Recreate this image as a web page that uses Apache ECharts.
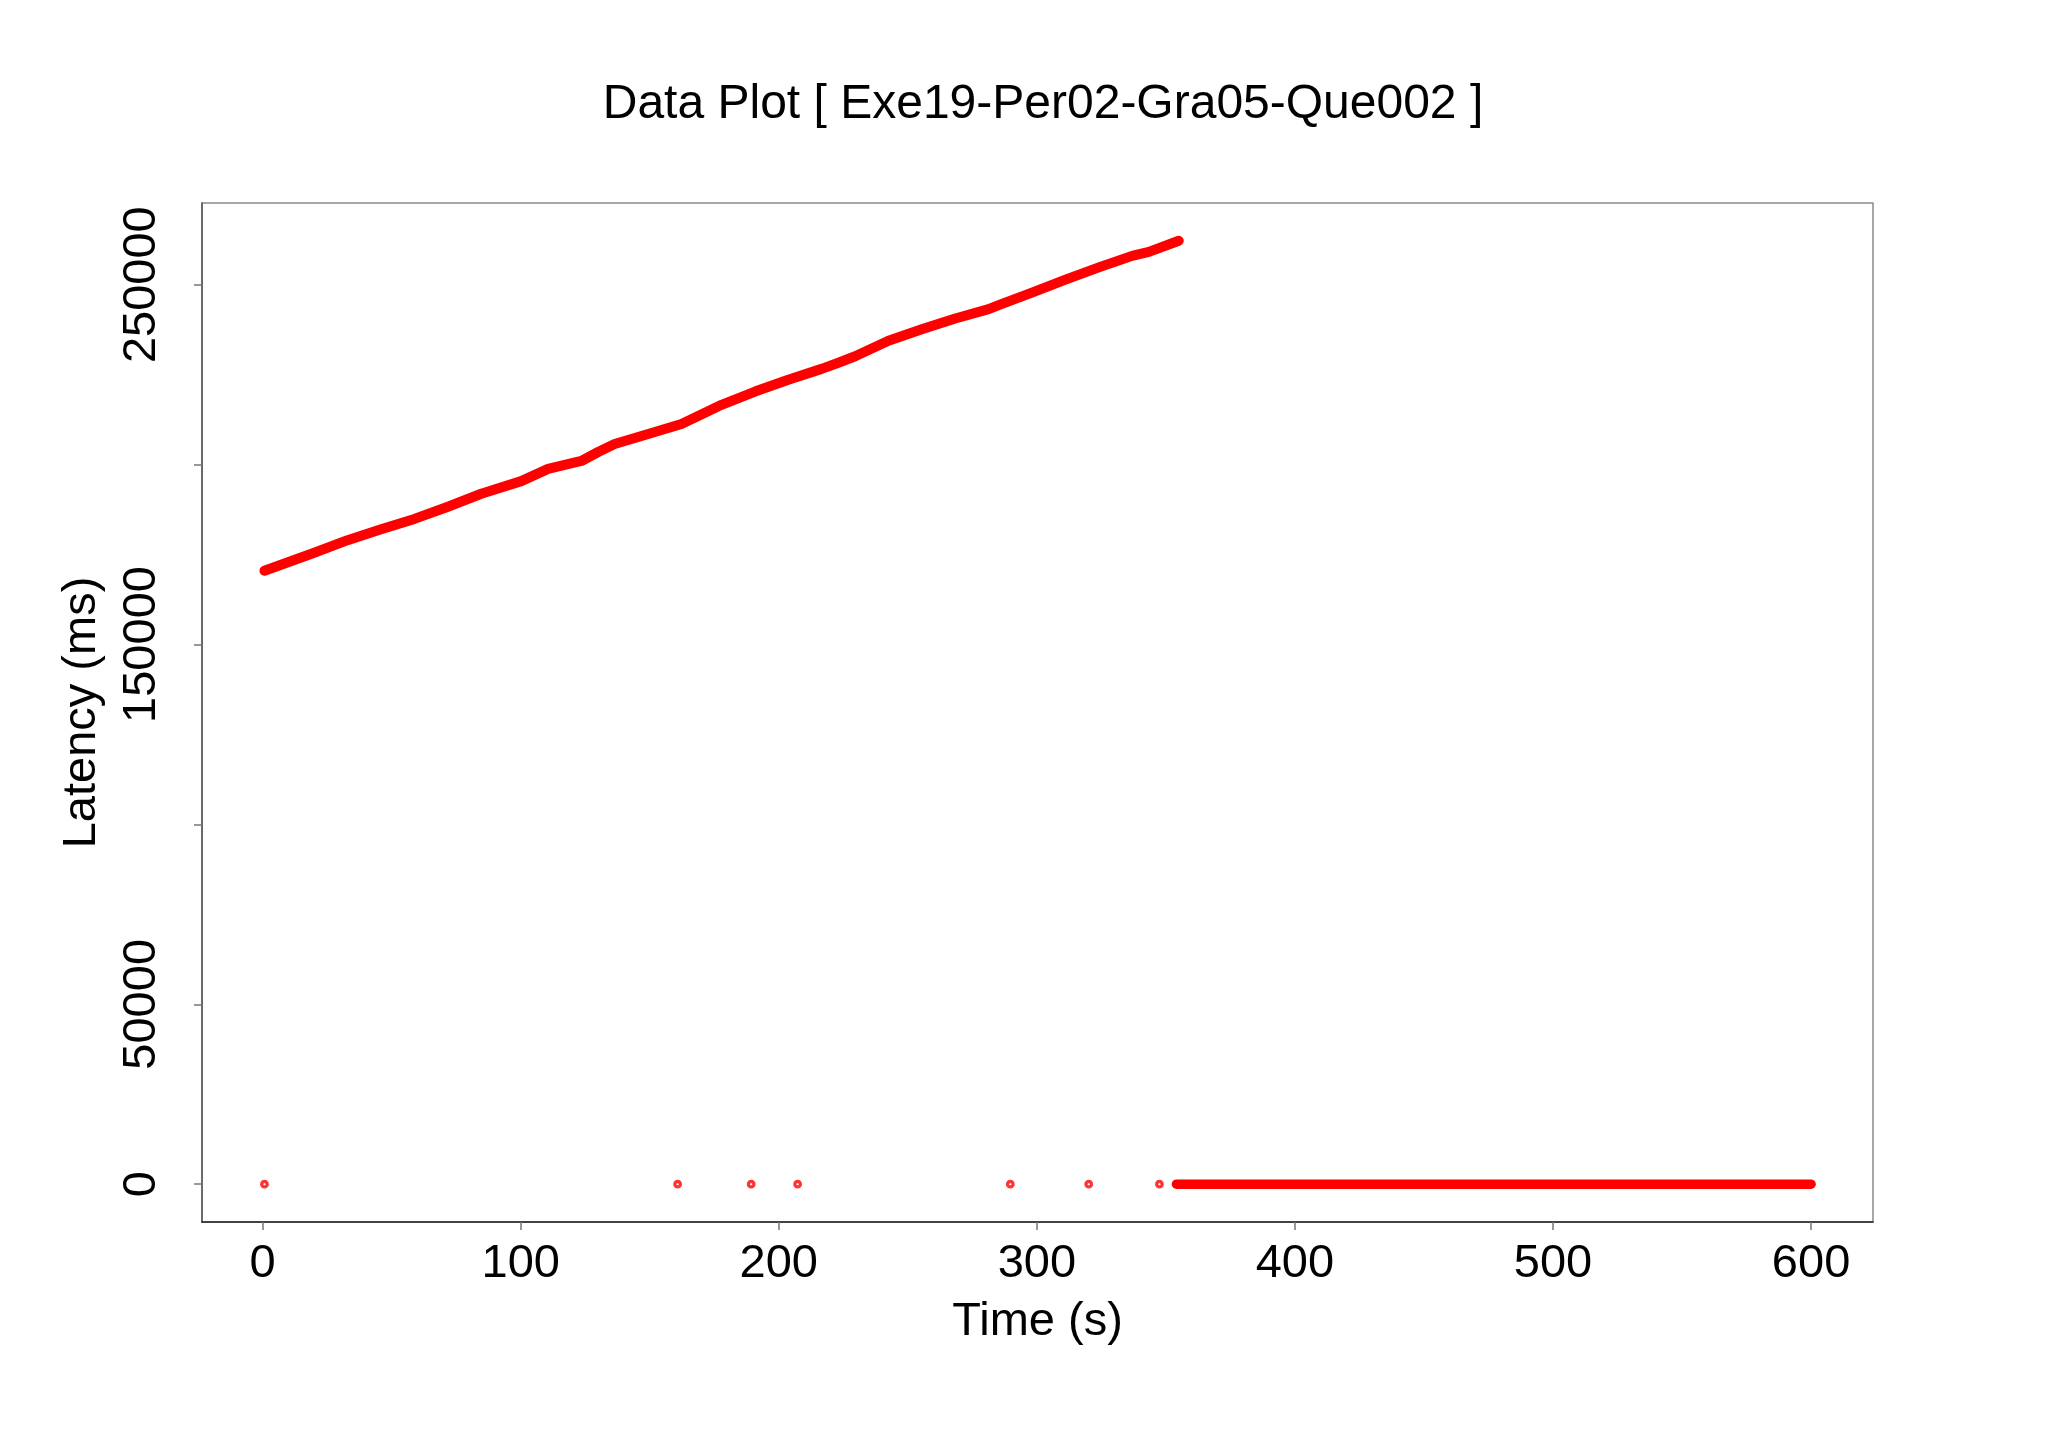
<!DOCTYPE html>
<html>
<head>
<meta charset="utf-8">
<script src="https://cdn.jsdelivr.net/npm/echarts@6/dist/echarts.min.js"></script>
<style>
html,body{margin:0;padding:0;background:#fff;}
#chart{width:2048px;height:1440px;}
</style>
</head>
<body>
<div id="chart"></div>
<script>
// Upper (growing latency) trace: time (s), latency (ms)
const upperTime = [0.7, 20.0, 32.9, 45.9, 58.8, 71.8, 84.7, 100.2, 110.6, 123.5, 130.0, 136.4, 149.4, 162.3, 172.6, 177.8, 190.8, 203.7, 216.6, 223.1, 229.6, 242.5, 255.4, 268.4, 281.3, 285.2, 298.1, 311.1, 324.0, 336.9, 343.4, 355.0];
const upperLatency = [170500, 175500, 179000, 182000, 184900, 188300, 191900, 195400, 198800, 201000, 203500, 205700, 208500, 211300, 214800, 216600, 220300, 223600, 226600, 228300, 230100, 234400, 237600, 240600, 243200, 244300, 247800, 251400, 254800, 258000, 259100, 262200];

// Dense run of zero-latency points after ~354 s
const zeroRunTime = [354.1, 600.0];
const zeroRunLatency = [0, 0];

// Isolated zero-latency points
const isolatedTime = [0.7, 160.8, 189.3, 207.3, 289.7, 320.1, 347.5];
const isolatedLatency = [0, 0, 0, 0, 0, 0, 0];

// Tick labels
const xTicks = [0, 100, 200, 300, 400, 500, 600];
const yTicks = [0, 50000, 100000, 150000, 200000, 250000];
const yTickLabels = [0, 50000, 150000, 250000];

const titleText = 'Data Plot [ Exe19-Per02-Gra05-Que002 ]';
const xName = 'Time (s)';
const yName = 'Latency (ms)';

const zip = (a, b) => a.map((v, i) => [v, b[i]]);
const FONT = 'Liberation Sans, Arial, Helvetica, sans-serif';
const RED = '#ff0000';

const chart = echarts.init(document.getElementById('chart'), null, {renderer: 'canvas'});
chart.setOption({
  backgroundColor: '#ffffff',
  animation: false,
  title: {
    text: titleText,
    left: 1038,
    top: 76,
    textAlign: 'center',
    textStyle: {fontFamily: FONT, fontSize: 48, fontWeight: 'normal', color: '#000'}
  },
  grid: {
    left: 202, right: 175, top: 203, bottom: 218,
    show: true, borderColor: '#8a8a8a', borderWidth: 1.5, backgroundColor: 'transparent'
  },
  xAxis: {
    type: 'value',
    min: -23.5, max: 624,
    name: xName,
    nameLocation: 'middle',
    nameGap: 77,
    nameTextStyle: {fontFamily: FONT, fontSize: 47, color: '#000'},
    axisLine: {show: true, onZero: false, lineStyle: {color: '#222', width: 1.5}},
    axisTick: {show: true, customValues: xTicks, length: 8, inside: false, lineStyle: {color: '#777', width: 1.5}},
    axisLabel: {show: true, customValues: xTicks, margin: 19, fontFamily: FONT, fontSize: 47, color: '#000',
      formatter: v => String(v)},
    splitLine: {show: false}
  },
  yAxis: {
    type: 'value',
    min: -10500, max: 272700,
    name: yName,
    nameLocation: 'middle',
    nameGap: 96,
    nameTextStyle: {fontFamily: FONT, fontSize: 47, color: '#000'},
    axisLine: {show: true, onZero: false, lineStyle: {color: '#555', width: 1.5}},
    axisTick: {show: true, customValues: yTicks, length: 8, inside: false, lineStyle: {color: '#777', width: 1.5}},
    axisLabel: {
      show: true, customValues: yTickLabels, rotate: 90, margin: 36,
      align: 'center', verticalAlign: 'bottom',
      fontFamily: FONT, fontSize: 47, color: '#000',
      formatter: v => String(v)
    },
    splitLine: {show: false}
  },
  series: [
    {
      type: 'line',
      data: zip(upperTime, upperLatency),
      showSymbol: false,
      symbol: 'none',
      lineStyle: {color: RED, width: 10, cap: 'round', join: 'round'},
      z: 3
    },
    {
      type: 'line',
      data: zip(zeroRunTime, zeroRunLatency),
      showSymbol: false,
      symbol: 'none',
      lineStyle: {color: RED, width: 9.5, cap: 'round', join: 'round'},
      z: 3
    },
    {
      type: 'scatter',
      data: zip(isolatedTime, isolatedLatency),
      symbol: 'circle',
      symbolSize: 5.5,
      itemStyle: {color: '#fff', borderColor: RED, borderWidth: 3.3},
      z: 4
    }
  ]
});
</script>
</body>
</html>
